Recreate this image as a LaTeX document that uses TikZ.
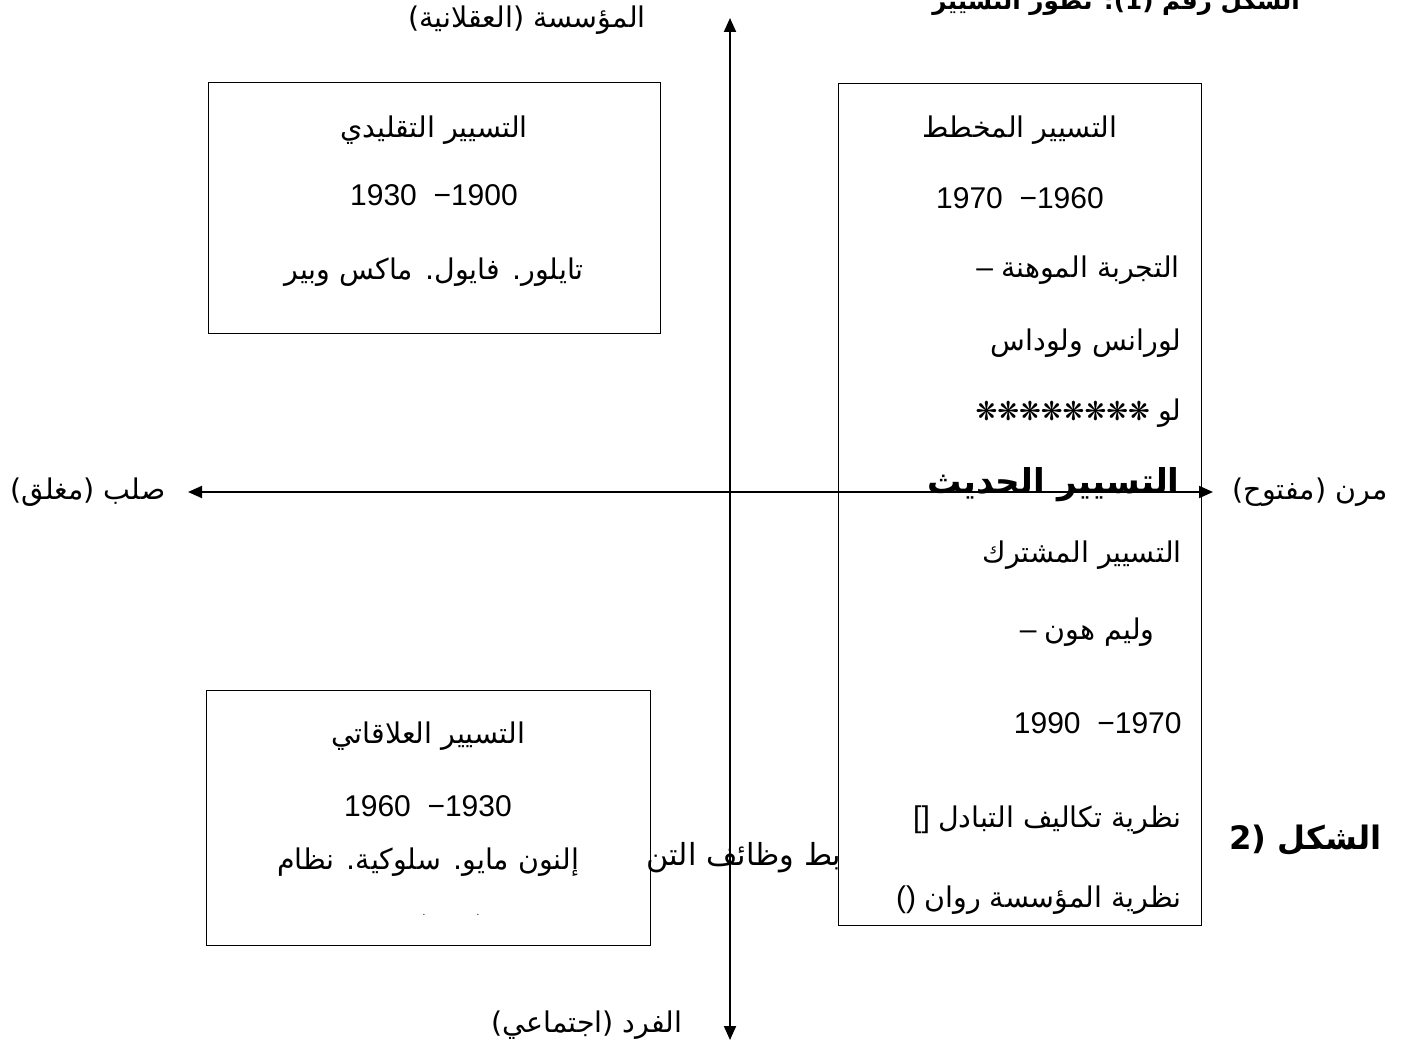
\documentclass[tikz,border=0pt]{standalone}
\usepackage{fontspec}
\setmainfont{Liberation Sans}
\newfontfamily\arabicfont[Script=Arabic,Scale=0.95]{DejaVu Sans}
\newfontfamily\symfont{DejaVu Sans}
\TeXXeTstate=1
\usetikzlibrary{arrows.meta}
\newcommand{\artxt}[1]{{\arabicfont\beginR #1\endR}}

\begin{document}
\begin{tikzpicture}[x=0.5pt,y=-0.5pt,>={Triangle[length=7pt,width=6pt]}]
        % Styles
        \tikzstyle{box}=[draw, line width=0.7pt, inner sep=0pt, anchor=north west]
        \tikzstyle{axis}=[line width=1pt, <->]
        \tikzstyle{txt}=[inner sep=0pt, font=\fontsize{15}{18}\selectfont]
        \tikzstyle{rtxt}=[txt, anchor=east]
        \tikzstyle{headtxt}=[inner sep=0pt, font=\fontsize{15}{18}\selectfont\bfseries]

        \useasboundingbox (0,0) rectangle (1408,1048);
        \clip (0,0) rectangle (1408,1048);

        % Axis end points
        \coordinate (ytop) at (730,18);
        \coordinate (ybot) at (730,1040);
        \coordinate (xleft) at (188,492);
        \coordinate (xright) at (1213,492);

        % The three boxes
        \node (tlbox)[box, minimum width=226pt, minimum height=125.5pt] at (208,82) {};
        \node (rbox)[box, minimum width=181.5pt, minimum height=421pt] at (838,83) {};
        \node (blbox)[box, minimum width=222pt, minimum height=127.5pt] at (206,690) {};

        % Axes
        \draw[axis] (ybot) -- (ytop);
        \draw[axis] (xleft) -- (xright);

        % Axis labels
        \node (ntop)[txt] at (527,20) {\artxt{المؤسسة (العقلانية)}};
        \node (nbot)[txt] at (587,1025) {\artxt{الفرد (اجتماعي)}};
        \node (nleft)[txt] at (88,492) {\artxt{صلب (مغلق)}};
        \node (nright)[txt] at (1310,492) {\artxt{مرن (مفتوح)}};

        % Caption fragments
        \node (title)[headtxt, anchor=west, font=\fontsize{13}{16}\selectfont\bfseries] at (932,3) {\artxt{الشكل رقم (1): تطور التسيير}};
        \node (fig2)[headtxt, anchor=east, font=\fontsize{17}{20}\selectfont\bfseries] at (1382,840) {\artxt{الشكل (2}};
        \node (frag)[txt, font=\fontsize{16}{19}\selectfont] at (744,858) {\artxt{بط وظائف التن}};

        % Top left box
        \node (t1)[txt] at (434,130) {\artxt{التسيير التقليدي}};
        \node (t2)[txt] at (434,195) {1930\ \ −1900};
        \node (t3)[txt] at (434,272) {\artxt{تايلور. فايول. ماكس وبير}};

        % Right box
        \node (r1)[txt] at (1020,130) {\artxt{التسيير المخطط}};
        \node (r2)[txt] at (1020,198) {1970\ \ −1960};
        \node (r3)[rtxt] at (1180,270) {– \artxt{التجربة الموهنة}};
        \node (r4)[rtxt] at (1182,343) {\artxt{لورانس ولوداس}};
        \node (r5)[rtxt] at (1182,413) {{\symfont\fontsize{13}{15}\selectfont ❋❋❋❋❋❋❋❋} \artxt{لو}};
        \node (r6)[headtxt, anchor=east, font=\fontsize{18}{21}\selectfont\bfseries] at (1180,485) {\artxt{التسيير الحديث}};
        \node (r7)[rtxt] at (1182,555) {\artxt{التسيير المشترك}};
        \node (r8)[rtxt] at (1155,632) {– \artxt{وليم هون}};
        \node (r9)[rtxt] at (1182,723) {1990\ \ −1970};
        \node (r10)[rtxt] at (1182,820) {[] \artxt{نظرية تكاليف التبادل}};
        \node (r11)[rtxt] at (1182,900) {() \artxt{نظرية المؤسسة روان}};

        % Bottom left box
        \node (b1)[txt] at (428,736) {\artxt{التسيير العلاقاتي}};
        \node (b2)[txt] at (428,806) {1960\ \ −1930};
        \node (b3)[txt] at (428,862) {\artxt{إلنون مايو. سلوكية. نظام}};
        \node (d1)[inner sep=0pt, font=\tiny] at (424,915) {.};
        \node (d2)[inner sep=0pt, font=\tiny] at (478,915) {.};
    \end{tikzpicture}
\end{document}
